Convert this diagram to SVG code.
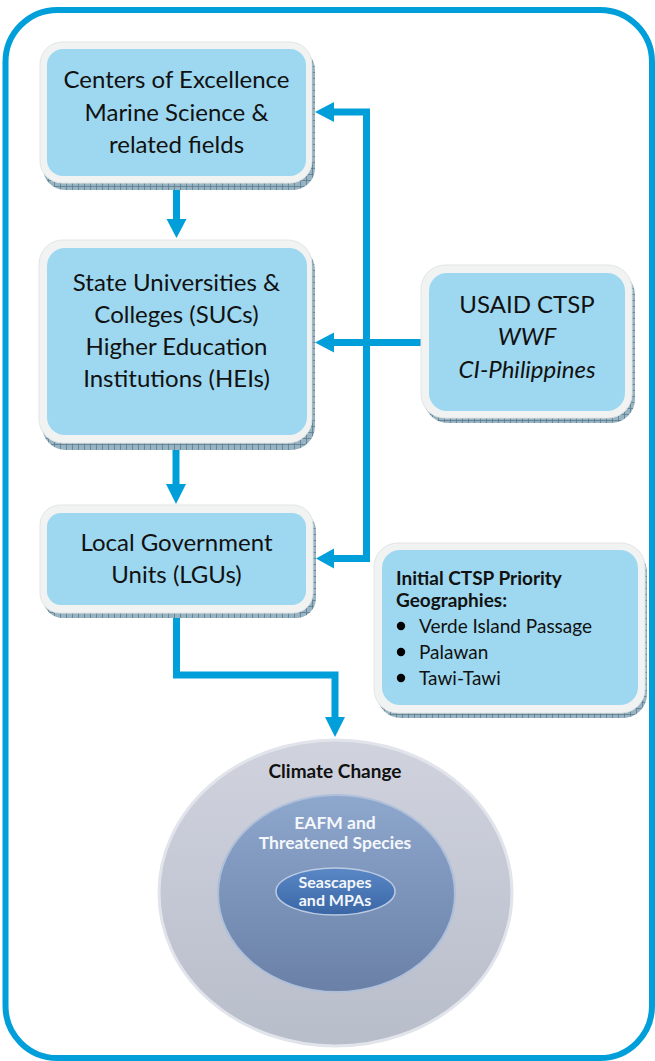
<svg xmlns="http://www.w3.org/2000/svg" width="655" height="1061" viewBox="0 0 655 1061">
  <defs>
    <style>
      .frame { fill: #f1f2f2; stroke: #e3e5e6; stroke-width: 1; }
      .inner { fill: #9dd8f0; }
      .shadow { fill: url(#hatch); }
      .t { font-family: Lato, "Liberation Sans", sans-serif; font-size: 24px; fill: #111; text-anchor: middle; }
      .ti { font-style: italic; }
      .pb { font-family: Lato, "Liberation Sans", sans-serif; font-size: 19px; fill: #111; font-weight: bold; }
      .pr { font-family: Lato, "Liberation Sans", sans-serif; font-size: 19px; fill: #111; }
      .ctr { font-family: Lato, "Liberation Sans", sans-serif; font-weight: bold; text-anchor: middle; }
      .wire { fill: none; stroke: #009fda; stroke-width: 7; }
      .head { fill: #009fda; }
    </style>
    <pattern id="hatch" width="6" height="6" patternUnits="userSpaceOnUse">
      <rect width="6" height="6" fill="#98b3c1"/>
      <path d="M0 0.5 H6 M0.5 0 V6" stroke="#5a7c8e" stroke-width="0.8"/>
    </pattern>
    <linearGradient id="gOuter" x1="0" y1="0" x2="0" y2="1">
      <stop offset="0" stop-color="#d0d3de"/>
      <stop offset="1" stop-color="#b8bdca"/>
    </linearGradient>
    <linearGradient id="gMid" x1="0" y1="0" x2="0" y2="1">
      <stop offset="0" stop-color="#8ea7cd"/>
      <stop offset="1" stop-color="#6a80a7"/>
    </linearGradient>
    <linearGradient id="gCore" x1="0" y1="0" x2="0" y2="1">
      <stop offset="0" stop-color="#5a87c6"/>
      <stop offset="1" stop-color="#3a66a6"/>
    </linearGradient>
  </defs>

  <rect x="0" y="0" width="655" height="1061" fill="#ffffff"/>
  <rect id="border" x="5.5" y="10" width="646.5" height="1048" rx="52" ry="52" fill="none" stroke="#009fda" stroke-width="6"/>

  <g id="connectors">
    <line class="wire" x1="176.5" y1="183" x2="176.5" y2="222"/>
    <polygon class="head" points="166.5,219 186.5,219 176.5,238"/>
    <line class="wire" x1="176" y1="443" x2="176" y2="486"/>
    <polygon class="head" points="166,484 186,484 176,504"/>
    <path class="wire" d="M176.5 613 V675 H335 V719"/>
    <polygon class="head" points="325,717 345,717 335,737"/>
    <path class="wire" d="M332 112 H366.5 V558.5 H332"/>
    <polygon class="head" points="334,102 334,122 315,112"/>
    <polygon class="head" points="334,548.5 334,568.5 316,558.5"/>
    <line class="wire" x1="421" y1="342.5" x2="332" y2="342.5"/>
    <polygon class="head" points="334,332.5 334,352.5 315,342.5"/>
  </g>

  <g id="node-coe">
    <rect class="shadow" x="43" y="48" width="272" height="142" rx="22"/>
    <rect class="frame" x="40" y="42" width="272" height="141" rx="22"/>
    <rect class="inner" x="47" y="49" width="259" height="127" rx="16"/>
    <text class="t" x="176.5" y="88">Centers of Excellence</text>
    <text class="t" x="176.5" y="121">Marine Science &amp;</text>
    <text class="t" x="176.5" y="153">related fields</text>
  </g>

  <g id="node-suc">
    <rect class="shadow" x="42" y="246" width="273" height="204" rx="24"/>
    <rect class="frame" x="39" y="240" width="273" height="203" rx="24"/>
    <rect class="inner" x="47" y="248" width="260" height="187" rx="18"/>
    <text class="t" x="176.5" y="291">State Universities &amp;</text>
    <text class="t" x="176.5" y="323">Colleges (SUCs)</text>
    <text class="t" x="176.5" y="355">Higher Education</text>
    <text class="t" x="176.5" y="387">Institutions (HEIs)</text>
  </g>

  <g id="node-lgu">
    <rect class="shadow" x="43" y="511" width="273" height="107" rx="20"/>
    <rect class="frame" x="40" y="505" width="273" height="108" rx="20"/>
    <rect class="inner" x="47" y="513" width="259" height="92" rx="14"/>
    <text class="t" x="176.5" y="551">Local Government</text>
    <text class="t" x="176.5" y="583">Units (LGUs)</text>
  </g>

  <g id="node-usaid">
    <rect class="shadow" x="424" y="271" width="211" height="152" rx="24"/>
    <rect class="frame" x="421" y="265" width="211" height="153" rx="24"/>
    <rect class="inner" x="429" y="273" width="196" height="138" rx="18"/>
    <text class="t" x="527" y="313">USAID CTSP</text>
    <text class="t ti" x="527" y="345">WWF</text>
    <text class="t ti" x="527" y="378">CI-Philippines</text>
  </g>

  <g id="node-priority">
    <rect class="shadow" x="377" y="548" width="270" height="170" rx="24"/>
    <rect class="frame" x="374" y="543" width="271" height="170" rx="24"/>
    <rect class="inner" x="382" y="550" width="256" height="155" rx="18"/>
    <text class="pb" x="396" y="585">Initial CTSP Priority</text>
    <text class="pb" x="396" y="607">Geographies:</text>
    <circle cx="401" cy="626" r="4.2" fill="#000"/>
    <text class="pr" x="419" y="633">Verde Island Passage</text>
    <circle cx="401" cy="652" r="4.2" fill="#000"/>
    <text class="pr" x="419" y="659">Palawan</text>
    <circle cx="401" cy="678" r="4.2" fill="#000"/>
    <text class="pr" x="419" y="685">Tawi-Tawi</text>
  </g>

  <g id="node-climate">
    <ellipse cx="335.5" cy="893" rx="176.5" ry="153" fill="url(#gOuter)" stroke="#e2e4eb" stroke-width="3"/>
    <ellipse cx="336.5" cy="893.5" rx="118.5" ry="98.5" fill="url(#gMid)" stroke="#aebfda" stroke-width="2"/>
    <ellipse cx="335.5" cy="891.5" rx="59.5" ry="23.5" fill="url(#gCore)" stroke="#bccbe2" stroke-width="1.5"/>
    <text class="ctr" x="335" y="778" font-size="19" fill="#111">Climate Change</text>
    <text class="ctr" x="335" y="829" font-size="17.5" fill="#f4f7fb">EAFM and</text>
    <text class="ctr" x="335" y="849" font-size="17.5" fill="#f4f7fb">Threatened Species</text>
    <text class="ctr" x="335" y="888" font-size="16" fill="#f4f7fb">Seascapes</text>
    <text class="ctr" x="335" y="906" font-size="16" fill="#f4f7fb">and MPAs</text>
  </g>
</svg>
